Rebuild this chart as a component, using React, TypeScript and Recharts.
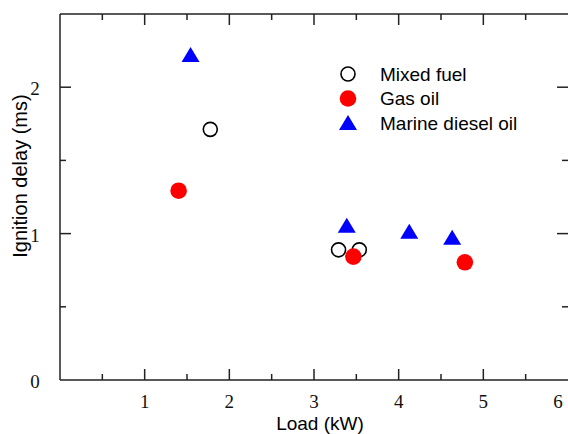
import React from "react";
import { ScatterChart, Scatter, XAxis, YAxis, Legend, ReferenceLine } from "recharts";

// ---- data ----
const seriesNames = ["Mixed fuel", "Gas oil", "Marine diesel oil"];
const mixedFuelLoad = [1.775, 3.29, 3.535];
const mixedFuelDelay = [1.712, 0.889, 0.889];
const gasOilLoad = [1.401, 3.465, 4.782];
const gasOilDelay = [1.293, 0.843, 0.804];
const marineLoad = [1.542, 3.387, 4.125, 4.632];
const marineDelay = [2.213, 1.047, 1.005, 0.964];

const xTicks = [0, 0.5, 1, 1.5, 2, 2.5, 3, 3.5, 4, 4.5, 5, 5.5, 6];
const yTicks = [0, 0.5, 1, 1.5, 2, 2.5];
const X_MAX = 6;
const Y_MAX = 2.5;

const toPoints = (xs: number[], ys: number[]) => xs.map((x, i) => ({ x, y: ys[i] }));
const mixedData = toPoints(mixedFuelLoad, mixedFuelDelay);
const gasData = toPoints(gasOilLoad, gasOilDelay);
const marineData = toPoints(marineLoad, marineDelay);

// ---- layout / style ----
const W = 568;
const H = 434;
const MARGIN_TOP = 14;
const PLOT_RIGHT = W;
const AXIS = "#222";
const SERIF = "'Liberation Serif', 'Times New Roman', serif";
const SANS = "'Liberation Sans', Arial, sans-serif";

const OpenCircle = (p: any) => (
  <circle cx={p.cx} cy={p.cy} r={7} fill="#fff" stroke="#000" strokeWidth={1.6} />
);
const RedDot = (p: any) => <circle cx={p.cx} cy={p.cy} r={8.3} fill="#ff0000" />;
const BlueTri = (p: any) => (
  <polygon
    points={`${p.cx},${p.cy - 9} ${p.cx - 9},${p.cy + 6} ${p.cx + 9},${p.cy + 6}`}
    fill="#0000ff"
  />
);

const markers: Record<string, (p: any) => React.ReactElement> = {
  "Mixed fuel": OpenCircle,
  "Gas oil": RedDot,
  "Marine diesel oil": BlueTri,
};

const isMajor = (v: number) => Math.abs(v - Math.round(v)) < 1e-9;

// bottom ticks (also mirrored on the top frame edge)
const BottomTick = (props: any) => {
  const { x, y, payload } = props;
  const v = payload.value as number;
  const len = isMajor(v) ? 11 : 6;
  const inner = v > 0 && v < X_MAX;
  return (
    <g>
      {inner && <line x1={x} y1={y} x2={x} y2={y - len} stroke={AXIS} strokeWidth={1.5} />}
      {inner && (
        <line x1={x} y1={MARGIN_TOP} x2={x} y2={MARGIN_TOP + len} stroke={AXIS} strokeWidth={1.5} />
      )}
      {isMajor(v) && v > 0 && (
        <text x={v === X_MAX ? x - 10 : x} y={y + 28} textAnchor="middle" fontFamily={SERIF} fontSize={19} fill="#111">
          {v}
        </text>
      )}
    </g>
  );
};

// left ticks (also mirrored on the right frame edge)
const LeftTick = (props: any) => {
  const { x, y, payload } = props;
  const v = payload.value as number;
  const len = isMajor(v) ? 11 : 6;
  const inner = v > 0 && v < Y_MAX;
  return (
    <g>
      {inner && <line x1={x} y1={y} x2={x + len} y2={y} stroke={AXIS} strokeWidth={1.5} />}
      {inner && (
        <line x1={PLOT_RIGHT} y1={y} x2={PLOT_RIGHT - len} y2={y} stroke={AXIS} strokeWidth={1.5} />
      )}
      {isMajor(v) && (
        <text x={x - 25} y={y + 8} textAnchor="middle" fontFamily={SERIF} fontSize={19} fill="#111">
          {v}
        </text>
      )}
    </g>
  );
};

const XTitle = (props: any) => {
  const vb = props.viewBox || { x: 60, y: 380, width: 508, height: 54 };
  return (
    <text x={vb.x + vb.width / 2 + 6} y={vb.y + 50} textAnchor="middle" fontFamily={SANS} fontSize={19} fill="#000">
      Load (kW)
    </text>
  );
};

const YTitle = (props: any) => {
  const vb = props.viewBox || { x: 0, y: 14, width: 60, height: 366 };
  const cx = vb.x + 20;
  const cy = vb.y + vb.height / 2 - 21;
  return (
    <text
      x={cx}
      y={cy}
      transform={`rotate(-90, ${cx}, ${cy})`}
      textAnchor="middle"
      dominantBaseline="central"
      fontFamily={SANS}
      fontSize={20}
      fill="#000"
    >
      Ignition delay (ms)
    </text>
  );
};

const LegendContent = (props: any) => {
  const payload = ([...(props.payload || [])] as any[]).sort(
    (a, b) => seriesNames.indexOf(a.value) - seriesNames.indexOf(b.value)
  );
  return (
    <svg width={230} height={80} style={{ display: "block" }}>
      {payload.map((entry: any, i: number) => {
        const cy = 16 + i * 24.5;
        const Marker = markers[entry.value] || OpenCircle;
        return (
          <g key={entry.value}>
            <Marker cx={18} cy={entry.value === "Marine diesel oil" ? cy + 1 : cy} />
            <text x={50} y={cy + 6.5} fontFamily={SANS} fontSize={19} fill="#000">
              {entry.value}
            </text>
          </g>
        );
      })}
    </svg>
  );
};

export default function App() {
  return (
    <div style={{ position: "absolute", left: 0, top: 0, width: W, height: H, background: "#fff" }}>
      <ScatterChart width={W} height={H} margin={{ top: MARGIN_TOP, right: 0, bottom: 0, left: 0 }}>
        <XAxis
          type="number"
          dataKey="x"
          domain={[0, X_MAX]}
          ticks={xTicks}
          interval={0}
          height={54}
          tickSize={0}
          tickMargin={0}
          tickLine={false}
          axisLine={{ stroke: AXIS, strokeWidth: 1.5 }}
          tick={BottomTick}
          label={XTitle}
          allowDataOverflow
        />
        <YAxis
          type="number"
          dataKey="y"
          domain={[0, Y_MAX]}
          ticks={yTicks}
          interval={0}
          width={60}
          tickSize={0}
          tickMargin={0}
          tickLine={false}
          axisLine={{ stroke: AXIS, strokeWidth: 1.5 }}
          tick={LeftTick}
          label={YTitle}
          allowDataOverflow
        />
        <ReferenceLine y={Y_MAX} stroke={AXIS} strokeWidth={1.5} ifOverflow="visible" />
        <Legend
          layout="horizontal"
          verticalAlign="middle"
          align="center"
          content={LegendContent}
          wrapperStyle={{ position: "absolute", left: 330, top: 58, width: 230, height: 80 }}
        />
        <Scatter name="Mixed fuel" data={mixedData} fill="#000" shape={OpenCircle} isAnimationActive={false} />
        <Scatter name="Gas oil" data={gasData} fill="#ff0000" shape={RedDot} isAnimationActive={false} />
        <Scatter name="Marine diesel oil" data={marineData} fill="#0000ff" shape={BlueTri} isAnimationActive={false} />
      </ScatterChart>
    </div>
  );
}
